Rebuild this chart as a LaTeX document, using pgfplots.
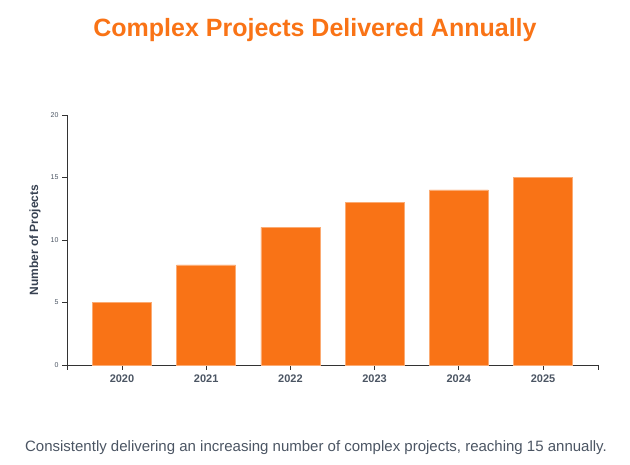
\documentclass[border=0pt]{standalone}
\usepackage{pgfplots}
\pgfplotsset{compat=1.18}
\usepackage{fontspec}
\setmainfont{Liberation Sans}
\definecolor{barorange}{HTML}{F97316}
\definecolor{titleorange}{HTML}{F97316}
\definecolor{txtgray}{HTML}{4B5563}
\definecolor{axisgray}{HTML}{333333}
\definecolor{labelgray}{HTML}{374151}
\begin{document}
\begin{tikzpicture}[x=1pt,y=1pt]
\path[use as bounding box] (0,0) rectangle (630,465);
\node[font=\fontsize{25}{28}\selectfont\bfseries, text=titleorange] at (315,435) {Complex Projects Delivered Annually};
\node[font=\fontsize{15}{17}\selectfont, text=txtgray] at (316,17) {Consistently delivering an increasing number of complex projects, reaching 15 annually.};
\begin{axis}[
  at={(67pt,100pt)}, anchor=south west,
  scale only axis, width=531pt, height=250pt,
  xmin=-0.653, xmax=5.653, ymin=0, ymax=20,
  axis x line*=bottom, axis y line*=left,
  axis line style={axisgray, line width=0.8pt, -},
  xtick={0,1,2,3,4,5},
  xticklabels={2020,2021,2022,2023,2024,2025},
  ytick={0,5,10,15,20},
  tick style={axisgray, line width=0.8pt},
  major tick length=5pt,
  tick align=outside,
  x tick label style={font=\fontsize{11}{12}\selectfont\bfseries, text=txtgray, yshift=-1pt},
  y tick label style={font=\fontsize{7}{8}\selectfont, text=txtgray},
  /pgf/number format/assume math mode=true,
  ylabel={Number of Projects},
  every axis y label/.style={at={(axis description cs:0,0.5)}, rotate=90, anchor=center, yshift=32pt, font=\fontsize{12}{14}\selectfont\bfseries, text=labelgray},
  clip=false,
]
\addplot[ybar, bar width=59pt, fill=barorange, draw=barorange!60!white, line width=0.5pt] coordinates {
(0,5) (1,8) (2,11) (3,13) (4,14) (5,15)
};
\draw[axisgray, line width=0.8pt] (axis cs:5.653,0) -- ([yshift=-5pt]axis cs:5.653,0);
\draw[axisgray, line width=0.8pt] (axis cs:-0.653,0) -- ([yshift=-5pt]axis cs:-0.653,0);
\end{axis}
\end{tikzpicture}
\end{document}
